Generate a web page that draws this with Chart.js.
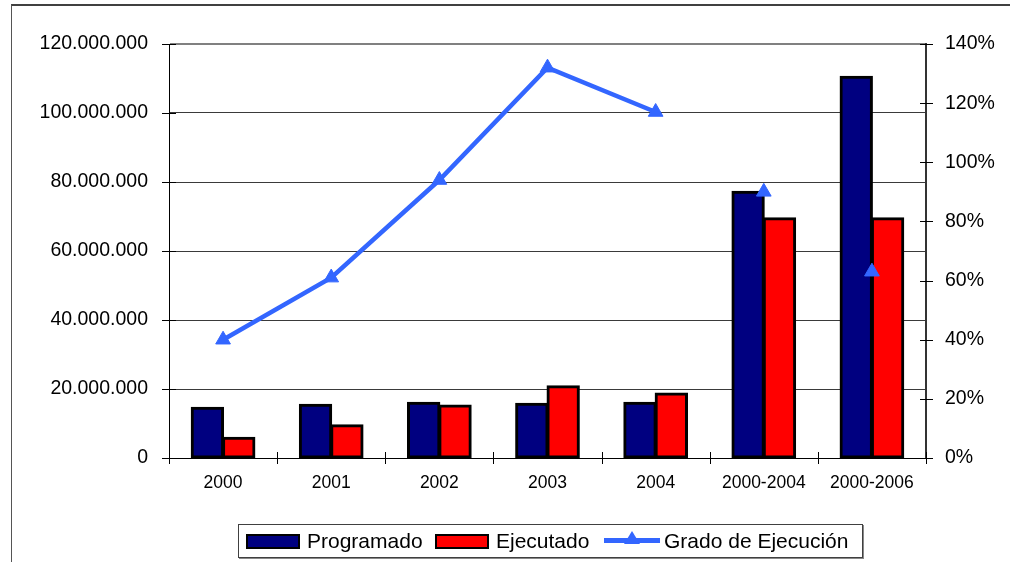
<!DOCTYPE html>
<html>
<head>
<meta charset="utf-8">
<script src="https://cdn.jsdelivr.net/npm/chart.js@4.4.1/dist/chart.umd.min.js"></script>
<style>
    body{margin:0;background:#fff;font-family:"Liberation Sans",Arial,sans-serif;}
    .Marco{position:absolute;left:11px;top:4px;width:1100px;height:700px;border-top:2px solid #404040;border-left:1px solid #555;}
    .Lienzo{position:absolute;left:0;top:0;width:1010px;height:562px;}
    .Leyenda{position:absolute;left:238px;top:524px;width:623px;height:32px;border:1px solid #404040;background:#fff;box-shadow:1px 1px 0 #888;}
    .Leyenda span{position:absolute;top:4px;font-size:21px;line-height:24px;color:#000;white-space:nowrap;}
    .Leyenda i{position:absolute;display:block;}
    .caja{top:9px;width:50px;height:11px;border:2px solid #000;}
    .linea{top:13px;width:56px;height:5px;background:#3366FF;}
    .tri{top:6px;width:0;height:0;border-left:8px solid transparent;border-right:8px solid transparent;border-bottom:13px solid #3366FF;}
</style>
</head>
<body>
<div class="Marco"></div>
<canvas id="GraficaEjecucion" class="Lienzo" width="1010" height="562"></canvas>
<div class="Leyenda">
    <i class="caja" style="left:7px;background:#000080;"></i><span style="left:68px;">Programado</span>
    <i class="caja" style="left:196px;background:#FF0000;"></i><span style="left:257px;">Ejecutado</span>
    <i class="linea" style="left:365px;"></i><i class="tri" style="left:385px;"></i><span style="left:425px;">Grado de Ejecución</span>
</div>
<script>
var Periodos = ['2000', '2001', '2002', '2003', '2004', '2000-2004', '2000-2006'];
var Programado = [14600000, 15400000, 16000000, 15700000, 16000000, 77200000, 110500000];
var Ejecutado = [5900000, 9500000, 15200000, 20800000, 18700000, 69500000, 69500000];
var GradoEjecucion = [40, 61, 94, 132, 117, 90, 63];
var TicksMonto = [0, 20000000, 40000000, 60000000, 80000000, 100000000, 120000000];
var TicksPorcentaje = [0, 20, 40, 60, 80, 100, 120, 140];

function Miles(n){
    return String(n).replace(/\B(?=(\d{3})+(?!\d))/g, '.');
}

// marcas de eje cruzadas (estilo Excel)
var MarcasCruzadas = {
    id: 'marcasCruzadas',
    afterDatasetsDraw: function(chart){
        var ctx = chart.ctx;
        var x = chart.scales.x, y = chart.scales.y, y1 = chart.scales.y1;
        ctx.save();
        ctx.strokeStyle = '#000';
        ctx.lineWidth = 1;
        ctx.beginPath();
        y.ticks.forEach(function(t){
            var py = Math.round(y.getPixelForValue(t.value)) + 0.5;
            ctx.moveTo(y.right - 7, py); ctx.lineTo(y.right + 7, py);
        });
        y1.ticks.forEach(function(t){
            var py = Math.round(y1.getPixelForValue(t.value)) + 0.5;
            ctx.moveTo(y1.left - 6, py); ctx.lineTo(y1.left + 7, py);
        });
        for(var i = 0; i <= Periodos.length; i++){
            var px = Math.round(x.left + i * x.width / Periodos.length) + 0.5;
            ctx.moveTo(px, x.top - 6); ctx.lineTo(px, x.top + 6);
        }
        ctx.stroke();
        ctx.restore();
    }
};

var ctx = document.getElementById('GraficaEjecucion');
var grafica = new Chart(ctx, {
    type: 'bar',
    data: {
        labels: Periodos,
        datasets: [
            {
                label: 'Programado',
                data: Programado,
                backgroundColor: '#000080',
                borderColor: '#000',
                borderWidth: 3,
                borderSkipped: false,
                inflateAmount: 1,
                categoryPercentage: 0.58,
                barPercentage: 1,
                yAxisID: 'y'
            },
            {
                label: 'Ejecutado',
                data: Ejecutado,
                backgroundColor: '#FF0000',
                borderColor: '#000',
                borderWidth: 3,
                borderSkipped: false,
                inflateAmount: 1,
                categoryPercentage: 0.58,
                barPercentage: 1,
                yAxisID: 'y'
            },
            {
                type: 'line',
                label: 'Grado de Ejecución',
                data: GradoEjecucion,
                borderColor: '#3366FF',
                backgroundColor: '#3366FF',
                borderWidth: 4.5,
                pointStyle: 'triangle',
                pointRadius: 8.5,
                pointBorderWidth: 1,
                pointBackgroundColor: '#3366FF',
                pointBorderColor: '#3366FF',
                tension: 0,
                order: -1,
                yAxisID: 'y1',
                segment: {
                    borderColor: function(c){ return c.p0DataIndex >= 4 ? 'rgba(0,0,0,0)' : '#3366FF'; }
                }
            }
        ]
    },
    options: {
        responsive: false,
        animation: false,
        layout: { padding: { top: 44, left: 0, right: 0, bottom: 0 } },
        plugins: {
            legend: { display: false },
            tooltip: { enabled: false }
        },
        scales: {
            x: {
                grid: { display: false, drawTicks: false },
                border: { color: '#000', width: 1 },
                ticks: {
                    color: '#000',
                    padding: 15,
                    maxRotation: 0,
                    font: { family: '"Liberation Sans", Arial, sans-serif', size: 17.5 }
                },
                afterFit: function(s){ s.height = 104; }
            },
            y: {
                position: 'left',
                min: 0,
                max: 120000000,
                afterBuildTicks: function(s){ s.ticks = TicksMonto.map(function(v){ return { value: v }; }); },
                grid: {
                    drawTicks: false,
                    color: function(c){ return c.tick && c.tick.value === 120000000 ? '#808080' : '#3a3a3a'; },
                    lineWidth: function(c){ return c.tick && c.tick.value === 120000000 ? 2 : 1; }
                },
                border: { color: '#000', width: 1 },
                ticks: {
                    color: '#000',
                    padding: 21,
                    font: { family: '"Liberation Sans", Arial, sans-serif', size: 19.5 },
                    callback: function(v){ return Miles(v); }
                },
                afterFit: function(s){ s.width = 169; }
            },
            y1: {
                position: 'right',
                min: 0,
                max: 140,
                afterBuildTicks: function(s){ s.ticks = TicksPorcentaje.map(function(v){ return { value: v }; }); },
                grid: { drawOnChartArea: false, drawTicks: false },
                border: { color: '#333', width: 2 },
                ticks: {
                    color: '#000',
                    padding: 19,
                    font: { family: '"Liberation Sans", Arial, sans-serif', size: 19.5 },
                    callback: function(v){ return v + '%'; }
                },
                afterFit: function(s){ s.width = 84; }
            }
        }
    },
    plugins: [MarcasCruzadas]
});
</script>
</body>
</html>
